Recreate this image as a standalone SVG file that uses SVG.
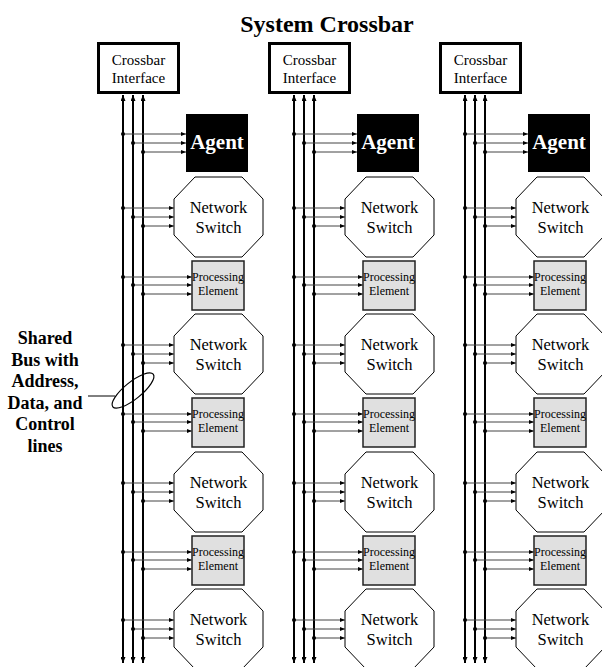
<svg xmlns="http://www.w3.org/2000/svg" width="602" height="667" viewBox="0 0 602 667">
<style>
text{font-family:"Liberation Serif","Times New Roman",serif;text-anchor:middle;fill:#000}
.title{font-size:24px;font-weight:bold}
.lbl{font-size:18px;font-weight:bold}
.xb rect{fill:#fff;stroke:#000;stroke-width:3}
.xb text{font-size:15px}
.ag rect{fill:#000}
.ag text{font-size:21px;font-weight:bold;fill:#fff}
.sw polygon{fill:#fff;stroke:#000;stroke-width:1}
.sw text{font-size:16.5px}
.pe rect{fill:#e0e0e0;stroke:#222;stroke-width:1.5}
.pe text{font-size:12px}
.bus{stroke:#000;stroke-width:2;fill:none;marker-start:url(#bah);marker-end:url(#bah)}
.c{stroke:#444;stroke-width:1;fill:none;marker-start:url(#dot);marker-end:url(#ah)}
</style>
<defs>
<marker id="ah" viewBox="0 0 5 4" refX="5" refY="2" markerWidth="5" markerHeight="4" markerUnits="userSpaceOnUse" orient="auto"><path d="M0,0L5,2L0,4z" fill="#000"/></marker>
<marker id="bah" viewBox="0 0 6 5" refX="6" refY="2.5" markerWidth="6" markerHeight="5" markerUnits="userSpaceOnUse" orient="auto-start-reverse"><path d="M0,0L6,2.5L0,5z" fill="#000"/></marker>
<marker id="dot" viewBox="0 0 4 4" refX="2" refY="2" markerWidth="4" markerHeight="4" markerUnits="userSpaceOnUse"><circle cx="2" cy="2" r="2" fill="#000"/></marker>
<polygon id="oct" points="21,0 68,0 89,22 89,58 68,80 21,80 0,58 0,22"/>
</defs>
<text class="title" x="327" y="32">System Crossbar</text>
<g id="bus-label">
<text class="lbl" x="45" y="344">Shared</text>
<text class="lbl" x="45" y="366">Bus with</text>
<text class="lbl" x="45" y="387">Address,</text>
<text class="lbl" x="45" y="409">Data, and</text>
<text class="lbl" x="45" y="430">Control</text>
<text class="lbl" x="45" y="452">lines</text>
<path d="M88,396H115" stroke="#000" stroke-width="1" fill="none"/>
<ellipse cx="133" cy="390.5" rx="26" ry="8.5" transform="rotate(-39 133 390.5)" fill="none" stroke="#000" stroke-width="1.2"/>
</g>
<!-- Column 1 -->
<g id="xbar1" class="xb"><rect x="98.5" y="43.5" width="80" height="49"/><text x="138.5" y="65">Crossbar</text><text x="138.5" y="83">Interface</text></g>
<g id="agent1" class="ag"><rect x="186" y="114" width="62" height="58"/><text x="217" y="149">Agent</text></g>
<g id="sw1a" class="sw"><polygon points="195,177 242,177 263,199 263,235 242,257 195,257 174,235 174,199"/><text x="218.5" y="213">Network</text><text x="218.5" y="233">Switch</text></g>
<g id="pe1a" class="pe"><rect x="192" y="261" width="52" height="49"/><text x="218" y="281">Processing</text><text x="218" y="295">Element</text></g>
<g id="sw1b" class="sw"><polygon points="195,314 242,314 263,336 263,372 242,394 195,394 174,372 174,336"/><text x="218.5" y="350">Network</text><text x="218.5" y="370">Switch</text></g>
<g id="pe1b" class="pe"><rect x="192" y="398" width="52" height="49"/><text x="218" y="418">Processing</text><text x="218" y="432">Element</text></g>
<g id="sw1c" class="sw"><polygon points="195,452 242,452 263,474 263,510 242,532 195,532 174,510 174,474"/><text x="218.5" y="488">Network</text><text x="218.5" y="508">Switch</text></g>
<g id="pe1c" class="pe"><rect x="192" y="536" width="52" height="49"/><text x="218" y="556">Processing</text><text x="218" y="570">Element</text></g>
<g id="sw1d" class="sw"><polygon points="195,589 242,589 263,611 263,647 242,669 195,669 174,647 174,611"/><text x="218.5" y="625">Network</text><text x="218.5" y="645">Switch</text></g>
<!-- Column 2 -->
<g id="xbar2" class="xb"><rect x="269.5" y="43.5" width="80" height="49"/><text x="309.5" y="65">Crossbar</text><text x="309.5" y="83">Interface</text></g>
<g id="agent2" class="ag"><rect x="357" y="114" width="62" height="58"/><text x="388" y="149">Agent</text></g>
<g id="sw2a" class="sw"><polygon points="366,177 413,177 434,199 434,235 413,257 366,257 345,235 345,199"/><text x="389.5" y="213">Network</text><text x="389.5" y="233">Switch</text></g>
<g id="pe2a" class="pe"><rect x="363" y="261" width="52" height="49"/><text x="389" y="281">Processing</text><text x="389" y="295">Element</text></g>
<g id="sw2b" class="sw"><polygon points="366,314 413,314 434,336 434,372 413,394 366,394 345,372 345,336"/><text x="389.5" y="350">Network</text><text x="389.5" y="370">Switch</text></g>
<g id="pe2b" class="pe"><rect x="363" y="398" width="52" height="49"/><text x="389" y="418">Processing</text><text x="389" y="432">Element</text></g>
<g id="sw2c" class="sw"><polygon points="366,452 413,452 434,474 434,510 413,532 366,532 345,510 345,474"/><text x="389.5" y="488">Network</text><text x="389.5" y="508">Switch</text></g>
<g id="pe2c" class="pe"><rect x="363" y="536" width="52" height="49"/><text x="389" y="556">Processing</text><text x="389" y="570">Element</text></g>
<g id="sw2d" class="sw"><polygon points="366,589 413,589 434,611 434,647 413,669 366,669 345,647 345,611"/><text x="389.5" y="625">Network</text><text x="389.5" y="645">Switch</text></g>
<!-- Column 3 -->
<g id="xbar3" class="xb"><rect x="440.5" y="43.5" width="80" height="49"/><text x="480.5" y="65">Crossbar</text><text x="480.5" y="83">Interface</text></g>
<g id="agent3" class="ag"><rect x="528" y="114" width="62" height="58"/><text x="559" y="149">Agent</text></g>
<g id="sw3a" class="sw"><polygon points="537,177 584,177 605,199 605,235 584,257 537,257 516,235 516,199"/><text x="560.5" y="213">Network</text><text x="560.5" y="233">Switch</text></g>
<g id="pe3a" class="pe"><rect x="534" y="261" width="52" height="49"/><text x="560" y="281">Processing</text><text x="560" y="295">Element</text></g>
<g id="sw3b" class="sw"><polygon points="537,314 584,314 605,336 605,372 584,394 537,394 516,372 516,336"/><text x="560.5" y="350">Network</text><text x="560.5" y="370">Switch</text></g>
<g id="pe3b" class="pe"><rect x="534" y="398" width="52" height="49"/><text x="560" y="418">Processing</text><text x="560" y="432">Element</text></g>
<g id="sw3c" class="sw"><polygon points="537,452 584,452 605,474 605,510 584,532 537,532 516,510 516,474"/><text x="560.5" y="488">Network</text><text x="560.5" y="508">Switch</text></g>
<g id="pe3c" class="pe"><rect x="534" y="536" width="52" height="49"/><text x="560" y="556">Processing</text><text x="560" y="570">Element</text></g>
<g id="sw3d" class="sw"><polygon points="537,589 584,589 605,611 605,647 584,669 537,669 516,647 516,611"/><text x="560.5" y="625">Network</text><text x="560.5" y="645">Switch</text></g>
<g id="connectors">
<path class="bus" d="M123,95V663"/><path class="bus" d="M133,95V663"/><path class="bus" d="M143,95V663"/>
<path class="bus" d="M294,95V663"/><path class="bus" d="M304,95V663"/><path class="bus" d="M314,95V663"/>
<path class="bus" d="M465,95V663"/><path class="bus" d="M475,95V663"/><path class="bus" d="M485,95V663"/>
<path class="c" d="M123,134H186"/><path class="c" d="M133,143H186"/><path class="c" d="M143,152H186"/>
<path class="c" d="M123,208H174"/><path class="c" d="M133,217H174"/><path class="c" d="M143,226H174"/>
<path class="c" d="M123,277H192"/><path class="c" d="M133,285H192"/><path class="c" d="M143,294H192"/>
<path class="c" d="M123,345H174"/><path class="c" d="M133,354H174"/><path class="c" d="M143,363H174"/>
<path class="c" d="M123,414H192"/><path class="c" d="M133,422H192"/><path class="c" d="M143,431H192"/>
<path class="c" d="M123,483H174"/><path class="c" d="M133,492H174"/><path class="c" d="M143,501H174"/>
<path class="c" d="M123,552H192"/><path class="c" d="M133,560H192"/><path class="c" d="M143,569H192"/>
<path class="c" d="M123,620H174"/><path class="c" d="M133,629H174"/><path class="c" d="M143,638H174"/>
<path class="c" d="M294,134H357"/><path class="c" d="M304,143H357"/><path class="c" d="M314,152H357"/>
<path class="c" d="M294,208H345"/><path class="c" d="M304,217H345"/><path class="c" d="M314,226H345"/>
<path class="c" d="M294,277H363"/><path class="c" d="M304,285H363"/><path class="c" d="M314,294H363"/>
<path class="c" d="M294,345H345"/><path class="c" d="M304,354H345"/><path class="c" d="M314,363H345"/>
<path class="c" d="M294,414H363"/><path class="c" d="M304,422H363"/><path class="c" d="M314,431H363"/>
<path class="c" d="M294,483H345"/><path class="c" d="M304,492H345"/><path class="c" d="M314,501H345"/>
<path class="c" d="M294,552H363"/><path class="c" d="M304,560H363"/><path class="c" d="M314,569H363"/>
<path class="c" d="M294,620H345"/><path class="c" d="M304,629H345"/><path class="c" d="M314,638H345"/>
<path class="c" d="M465,134H528"/><path class="c" d="M475,143H528"/><path class="c" d="M485,152H528"/>
<path class="c" d="M465,208H516"/><path class="c" d="M475,217H516"/><path class="c" d="M485,226H516"/>
<path class="c" d="M465,277H534"/><path class="c" d="M475,285H534"/><path class="c" d="M485,294H534"/>
<path class="c" d="M465,345H516"/><path class="c" d="M475,354H516"/><path class="c" d="M485,363H516"/>
<path class="c" d="M465,414H534"/><path class="c" d="M475,422H534"/><path class="c" d="M485,431H534"/>
<path class="c" d="M465,483H516"/><path class="c" d="M475,492H516"/><path class="c" d="M485,501H516"/>
<path class="c" d="M465,552H534"/><path class="c" d="M475,560H534"/><path class="c" d="M485,569H534"/>
<path class="c" d="M465,620H516"/><path class="c" d="M475,629H516"/><path class="c" d="M485,638H516"/>
</g>
</svg>
